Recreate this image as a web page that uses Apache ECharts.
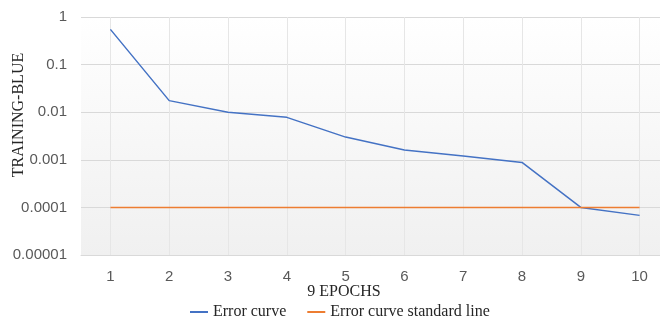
<!DOCTYPE html>
<html>
<head>
<meta charset="utf-8">
<script src="https://cdn.jsdelivr.net/npm/echarts@6/dist/echarts.min.js"></script>
<style>
  html, body { margin: 0; padding: 0; background: #fff; }
  #chart { width: 660px; height: 320px; }
</style>
</head>
<body>
<div id="chart"></div>
<script>
const epochs = ['1', '2', '3', '4', '5', '6', '7', '8', '9', '10']
const errorCurve = [0.55, 0.0175, 0.01, 0.0078, 0.003, 0.0016, 0.0012, 0.00088, 0.0001, 0.000068]
const standardLine = [0.0001, 0.0001, 0.0001, 0.0001, 0.0001, 0.0001, 0.0001, 0.0001, 0.0001, 0.0001]
const yTickLabels = ['0.00001', '0.0001', '0.001', '0.01', '0.1', '1']

const serif = '"Liberation Serif", "DejaVu Serif", serif'
const sans = '"Liberation Sans", Arial, sans-serif'

const chart = echarts.init(document.getElementById('chart'))
chart.setOption({
    animation: false,
    grid: {
        left: 81,
        right: -9,
        top: 17,
        bottom: 65,
        outerBoundsMode: 'none',
        containLabel: false,
        show: true,
        borderWidth: 0,
        backgroundColor: new echarts.graphic.LinearGradient(0, 0, 0, 1, [
            { offset: 0, color: '#ffffff' },
            { offset: 1, color: '#f0f0f0' }
        ])
    },
    legend: {
        left: 185,
        top: 299,
        icon: 'rect',
        itemWidth: 18,
        itemHeight: 2,
        itemGap: 21,
        textStyle: { fontFamily: serif, fontSize: 16, color: '#262626' },
        data: ['Error curve', 'Error curve standard line']
    },
    xAxis: {
        type: 'category',
        data: epochs,
        boundaryGap: true,
        name: '9 EPOCHS',
        nameLocation: 'middle',
        nameGap: 29,
        nameMoveOverlap: false,
        nameTextStyle: { fontFamily: serif, fontSize: 16, color: '#262626', padding: [0, 62, 0, 0] },
        axisTick: { show: false },
        axisLine: { lineStyle: { color: '#d9d9d9', width: 1 } },
        axisLabel: { color: '#595959', fontFamily: sans, fontSize: 15, margin: 14 },
        splitLine: { show: true, alignWithLabel: true, lineStyle: { color: '#e6e6e6', width: 1 } }
    },
    yAxis: {
        type: 'log',
        logBase: 10,
        min: 0.00001,
        max: 1,
        name: 'TRAINING-BLUE',
        nameLocation: 'middle',
        nameGap: 54,
        nameMoveOverlap: false,
        nameTextStyle: { fontFamily: serif, fontSize: 16, color: '#262626', padding: [0, 0, 0, 42] },
        axisLine: { show: false },
        axisTick: { show: false },
        axisLabel: {
            color: '#595959',
            fontFamily: sans,
            fontSize: 15,
            margin: 14,
            formatter: function (v) {
                const i = Math.round(Math.log10(v)) + 5
                return yTickLabels[i] !== undefined ? yTickLabels[i] : ''
            }
        },
        splitLine: { lineStyle: { color: '#d9d9d9', width: 1 } }
    },
    series: [
        {
            name: 'Error curve',
            type: 'line',
            data: errorCurve,
            symbol: 'none',
            lineStyle: { color: '#4472C4', width: 1.5 },
            itemStyle: { color: '#4472C4' }
        },
        {
            name: 'Error curve standard line',
            type: 'line',
            data: standardLine,
            symbol: 'none',
            lineStyle: { color: '#ED7D31', width: 1.5 },
            itemStyle: { color: '#ED7D31' }
        }
    ]
})
</script>
</body>
</html>
